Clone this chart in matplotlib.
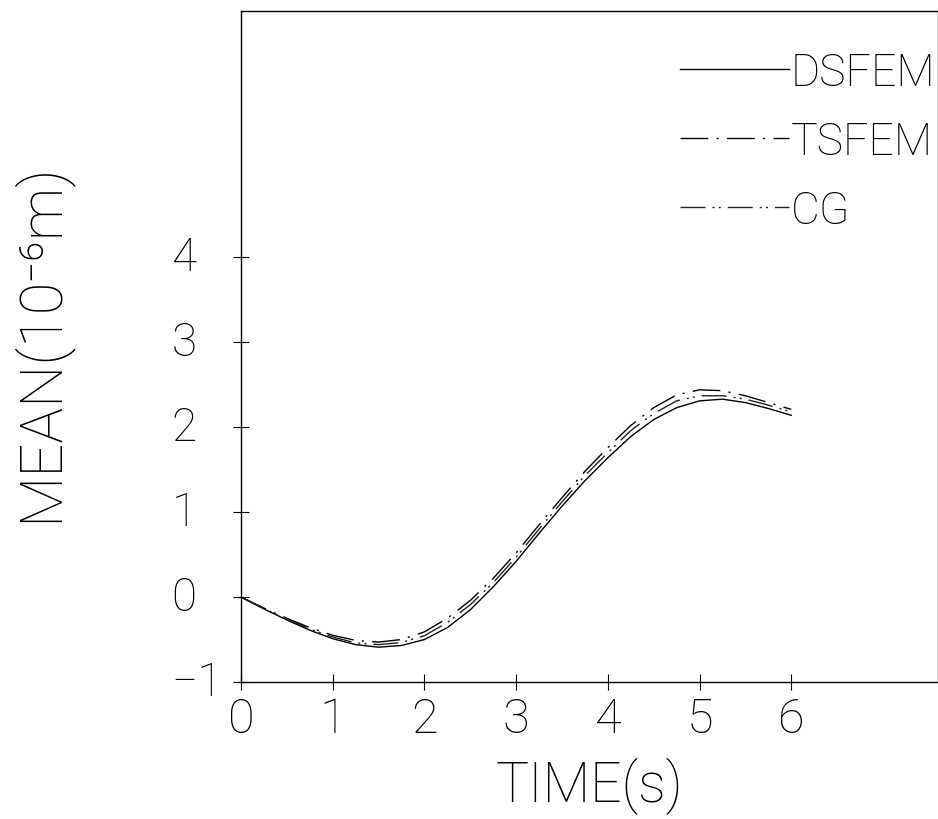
import matplotlib
matplotlib.use("Agg")
import matplotlib.pyplot as plt

time = [0.0, 0.25, 0.5, 0.75, 1.0, 1.25, 1.5, 1.75, 2.0, 2.25, 2.5, 2.75, 3.0,
        3.25, 3.5, 3.75, 4.0, 4.25, 4.5, 4.75, 5.0, 5.25, 5.5, 5.75, 6.0]
dsfem = [0.0, -0.14, -0.27, -0.39, -0.49, -0.56, -0.59, -0.57, -0.50, -0.36, -0.15, 0.12, 0.42,
         0.75, 1.07, 1.37, 1.64, 1.89, 2.09, 2.23, 2.31, 2.33, 2.29, 2.22, 2.14]
tsfem = [0.0, -0.13, -0.25, -0.36, -0.45, -0.51, -0.53, -0.50, -0.41, -0.25, -0.04, 0.22, 0.52,
         0.85, 1.17, 1.48, 1.76, 2.02, 2.23, 2.38, 2.44, 2.43, 2.37, 2.29, 2.21]
cg = [0.0, -0.135, -0.26, -0.375, -0.47, -0.54, -0.56, -0.535, -0.455, -0.30, -0.09, 0.17, 0.47,
      0.80, 1.12, 1.43, 1.70, 1.96, 2.16, 2.31, 2.37, 2.37, 2.33, 2.26, 2.18]

xticks = [0, 1, 2, 3, 4, 5, 6]
yticks = [-1, 0, 1, 2, 3, 4]

plt.rcParams['font.family'] = ['Roboto', 'DejaVu Sans']
plt.rcParams['font.weight'] = 'light'

fig = plt.figure(figsize=(9.38, 8.2), dpi=100)
ax = fig.add_axes([241 / 938, 1 - 683 / 820, 697 / 938, 671 / 820])

ax.plot(time, dsfem, color='black', lw=1.0, label='DSFEM')
ax.plot(time, tsfem, color='black', lw=1.0, dashes=(20, 6, 1.5, 6), label='TSFEM')
ax.plot(time, cg, color='#222222', lw=1.0, dashes=(18, 5, 1.5, 3, 1.5, 5), label='CG')

ax.set_xlim(0, 7.6)
ax.set_ylim(-1, 6.9)
ax.tick_params(direction='inout', length=11.5, width=0.8)
ax.tick_params(axis='x', pad=4)
ax.set_xticks(xticks)
ax.set_yticks(yticks)
ax.set_xticklabels([str(v) for v in xticks], fontsize=35, fontweight='light')

# y tick labels are left-aligned in the original, so place them on the axis transform
ax.set_yticklabels([])
for v in yticks:
    lab = '\u2212' + str(-v) if v < 0 else str(v)
    ax.text(-0.1, v, lab, transform=ax.get_yaxis_transform(), ha='left', va='center',
            fontsize=33, fontweight='light')

for s in ax.spines.values():
    s.set_linewidth(1.0)

ax.set_xlabel('TIME(s)', fontsize=40, fontweight='light', labelpad=10)
fig.text(40 / 938, 1 - 342 / 820, 'MEAN(10\u207b\u2076m)', rotation=90, fontsize=43,
         fontweight='light', ha='center', va='center',
         family=['Roboto', 'DejaVu Sans'])

leg = ax.legend(loc='upper left', bbox_to_anchor=(680 / 938, 1 - 52 / 820),
                bbox_transform=fig.transFigure, frameon=False, fontsize=32,
                handlelength=2.45, handletextpad=0.05, labelspacing=0.6,
                borderpad=0, borderaxespad=0)
for t in leg.get_texts():
    t.set_fontweight('light')

fig.savefig('out.png', dpi=100)
